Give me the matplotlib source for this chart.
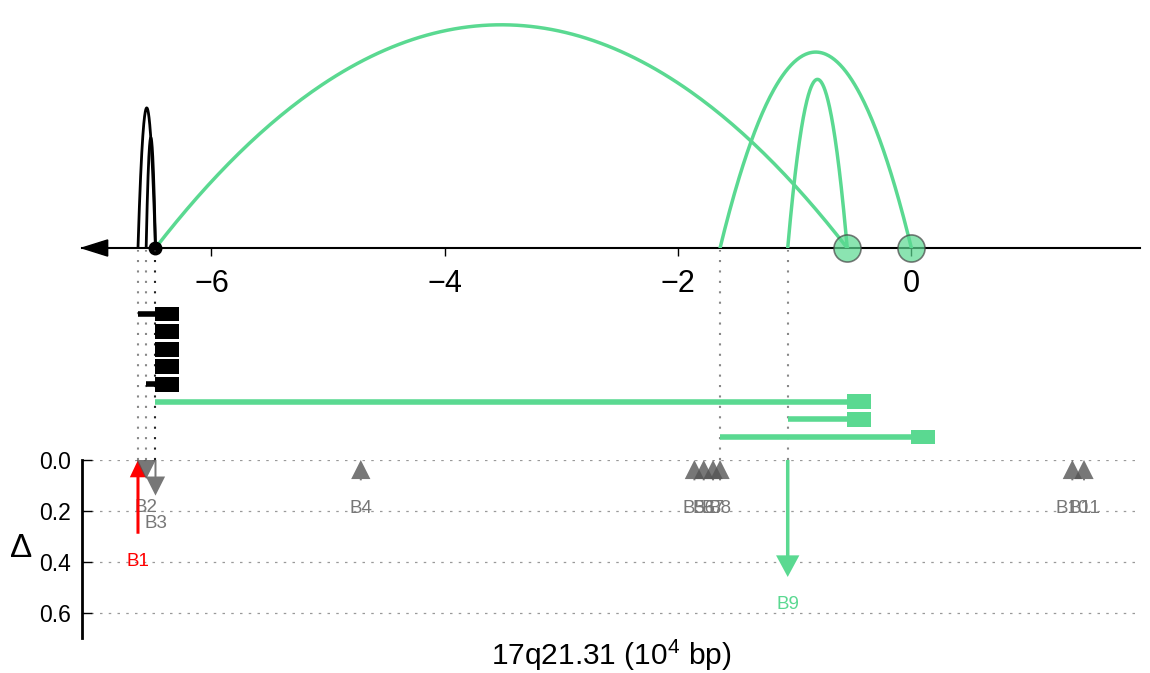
import numpy as np
import matplotlib.pyplot as plt
from matplotlib.patches import Rectangle

plt.rcParams['font.family'] = ['Liberation Sans', 'DejaVu Sans']
plt.rcParams['mathtext.default'] = 'regular'

GREEN = '#5ad991'
GRAY = '#555555'

# Arcos del panel superior (posiciones en 10^4 bp)
arc_start = [-6.63, -6.56, -6.48, -1.64, -1.06]
arc_end = [-6.48, -6.48, -0.55, 0.0, -0.55]
arc_height = [0.565, 0.445, 0.90, 0.79, 0.68]
arc_color = ['k', 'k', GREEN, GREEN, GREEN]

anchor_green = [-0.55, 0.0]
anchor_black = [-6.48]

# Filas del panel central
row_start = [-6.63, -6.48, -6.48, -6.48, -6.56, -6.48, -1.06, -1.64]
row_end = [-6.48, -6.48, -6.48, -6.48, -6.48, -0.55, -0.55, 0.0]
row_color = ['k'] * 5 + [GREEN] * 3

# Lineas guia punteadas
guide_pos = [-6.63, -6.56, -6.48, -1.64, -1.06]
guide_color = ['#888888', '#888888', '#222222', '#888888', '#888888']

# Puntos de ruptura (Delta con signo: negativo = flecha hacia arriba)
bp_name = ['B1', 'B2', 'B3', 'B4', 'B5', 'B6', 'B7', 'B8', 'B9', 'B10', 'B11']
bp_pos = [-6.63, -6.56, -6.48, -4.72, -1.86, -1.78, -1.70, -1.64, -1.06, 1.38, 1.48]
bp_delta = [-0.29, 0.075, 0.14, -0.08, -0.08, -0.08, -0.08, -0.08, 0.46, -0.08, -0.08]
bp_color = ['red', GRAY, GRAY, GRAY, GRAY, GRAY, GRAY, GRAY, GREEN, GRAY, GRAY]

xmin, xmax = -7.11, 1.96
xticks = [-6, -4, -2, 0]
yticks = [0.0, 0.2, 0.4, 0.6]

fig = plt.figure(figsize=(11.5, 6.73), dpi=100)
L, W = 0.0713, 0.92

# ---------- panel superior ----------
ax1 = fig.add_axes([L, 0.6315, W, 0.3685])
ax1.set_xlim(xmin, xmax)
ax1.set_ylim(0, 1)
for s in ['top', 'right', 'left']:
    ax1.spines[s].set_visible(False)
ax1.spines['bottom'].set_linewidth(1.5)
ax1.set_yticks([])
ax1.set_xticks(xticks)
ax1.set_xticklabels(['\u2212%d' % abs(t) if t < 0 else '%d' % t for t in xticks])
ax1.tick_params(axis='x', direction='out', length=6, width=1, labelsize=22, pad=9)
ax1.patch.set_visible(False)

for a, b, h, c in zip(arc_start, arc_end, arc_height, arc_color):
    x = np.linspace(a, b, 200)
    y = h * 4 * (x - a) * (b - x) / (b - a) ** 2
    ax1.plot(x, y, color=c, lw=2.5 if c == GREEN else 2, zorder=3)

ax1.plot(anchor_green, [0] * len(anchor_green), 'o', ms=19.5, mfc=GREEN, mec='#444444',
         mew=1.2, alpha=0.7, clip_on=False, zorder=5)
ax1.plot(anchor_black, [0] * len(anchor_black), 'o', ms=9, color='k', clip_on=False, zorder=5)
ax1.arrow(xmin + 0.22, 0, -0.22, 0, head_width=0.065, head_length=0.22,
          length_includes_head=True, color='k', clip_on=False, zorder=4)

# ---------- panel central ----------
ax2 = fig.add_axes([L, 0.3165, W, 0.312])
ax2.set_xlim(xmin, xmax)
ax2.set_ylim(8.31, -3.64)
ax2.axis('off')

for p, c in zip(guide_pos, guide_color):
    ax2.axvline(p, color=c, lw=1.5, ls=(0, (1, 4)), zorder=1)

for i, (s, e, c) in enumerate(zip(row_start, row_end, row_color)):
    ax2.plot([s, e], [i, i], color=c, lw=4, solid_capstyle='butt', zorder=2)
    ax2.add_patch(Rectangle((e, i - 0.42), 0.2, 0.84, color=c, lw=0, zorder=3))

# ---------- panel inferior ----------
ax3 = fig.add_axes([L, 0.052, W, 0.2645])
ax3.set_xlim(xmin, xmax)
ax3.set_ylim(0.7, 0.0)
for s in ['top', 'right', 'bottom']:
    ax3.spines[s].set_visible(False)
ax3.spines['left'].set_linewidth(2)
ax3.set_xticks([])
ax3.set_yticks(yticks)
ax3.set_yticklabels(['%.1f' % t for t in yticks])
ax3.tick_params(axis='y', direction='in', length=7, width=1, labelsize=16.5, pad=8)
ax3.grid(axis='y', color='#999999', lw=0.9, ls=(0, (2, 5)))
ax3.set_axisbelow(True)
ax3.patch.set_visible(False)

for name, p, d, c in zip(bp_name, bp_pos, bp_delta, bp_color):
    length = abs(d)
    if c == 'red':
        hw, hl, w, alpha = 0.14, 0.068, 0.026, 1.0
    elif c == GREEN:
        hw, hl, w, alpha = 0.2, 0.085, 0.03, 1.0
    else:
        hw, hl, w, alpha = 0.165, 0.075, 0.017, 0.8
    hl = min(hl, length)
    if d < 0:
        ax3.arrow(p, length, 0, -length, width=w, head_width=hw, head_length=hl,
                  length_includes_head=True, color=c, alpha=alpha, lw=0, zorder=4)
    else:
        ax3.arrow(p, 0, 0, length, width=w, head_width=hw, head_length=hl,
                  length_includes_head=True, color=c, alpha=alpha, lw=0, zorder=4)
    tc = '#777777' if c == GRAY else c
    ax3.text(p, length + 0.11, name, color=tc, fontsize=13.5, ha='center', va='center')

ax3.set_ylabel('\u0394', rotation=0, fontsize=24, labelpad=13, va='center')
ax3.set_xlabel('17q21.31 (10$^{4}$ bp)', fontsize=21.5, labelpad=0)

fig.savefig('out.png', dpi=100)
